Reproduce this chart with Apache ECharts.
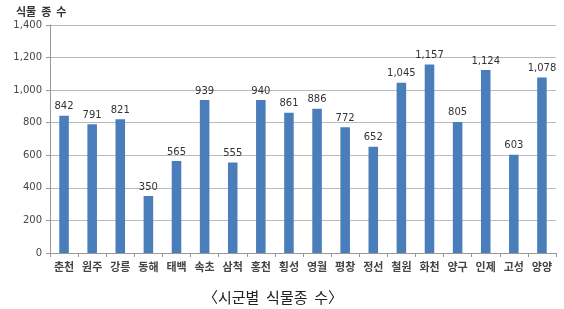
<!DOCTYPE html>
<html><head><meta charset="utf-8">
<script src="https://cdn.jsdelivr.net/npm/echarts@6/dist/echarts.min.js"></script>
<style>html,body{margin:0;padding:0;background:#fff}#c{width:564px;height:309px}</style>
</head><body><div id="c"></div>
<script>
const categories = ['춘천','원주','강릉','동해','태백','속초','삼척','홍천','횡성','영월','평창','정선','철원','화천','양구','인제','고성','양양'];
const values = [842,791,821,350,565,939,555,940,861,886,772,652,1045,1157,805,1124,603,1078];
const yTicks = [0,200,400,600,800,1000,1200,1400];
const chart = echarts.init(document.getElementById('c'));
const kr = '"Noto Sans CJK KR", sans-serif';
chart.setOption({
  animation:false,
  title:[
    {text:'식물  종  수', left:11, top:1, textStyle:{fontFamily:kr, fontSize:11, fontWeight:'bold', color:'#333'}},
    {text:'〈시군별  식물종  수〉', left:198, top:285, textStyle:{fontFamily:kr, fontSize:15, fontWeight:'normal', color:'#222'}}
  ],
  grid:{left:50, right:8, top:25, bottom:56},
  xAxis:{type:'category', data:categories,
    axisLine:{lineStyle:{color:'#999'}},
    axisTick:{show:true, lineStyle:{color:'#999'}, length:4},
    axisLabel:{interval:0, fontFamily:kr, fontSize:11, fontWeight:'bold', color:'#444', margin:8}},
  yAxis:{type:'value', min:0, max:1400, interval:200,
    axisLine:{show:true, lineStyle:{color:'#999'}},
    axisTick:{show:true, lineStyle:{color:'#999'}, length:4, inside:false},
    splitLine:{lineStyle:{color:'#bbb'}},
    axisLabel:{fontFamily:'DejaVu Sans', fontSize:10, color:'#444', margin:8,
      formatter:v=>yTicks.includes(v)? v.toLocaleString('en-US'):''}},
  series:[{type:'bar', data:values, barWidth:'34%',
    itemStyle:{color:'#4a7ebb'},
    label:{show:true, position:'top', distance:4, fontFamily:'DejaVu Sans', fontSize:10, color:'#333',
      formatter:p=>p.value.toLocaleString('en-US')}}]
});
</script></body></html>
